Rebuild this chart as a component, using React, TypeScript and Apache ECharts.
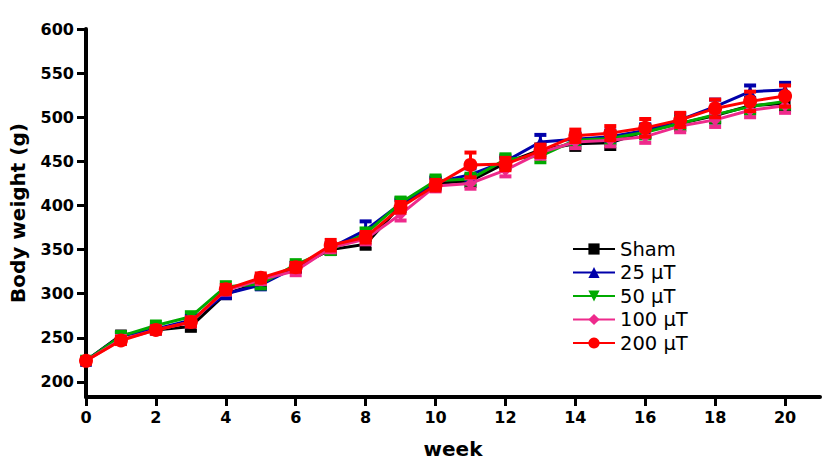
import React, { useEffect, useRef } from "react";
import * as echarts from "echarts";

const weeks = [0, 1, 2, 3, 4, 5, 6, 7, 8, 9, 10, 11, 12, 13, 14, 15, 16, 17, 18, 19, 20];
const xTicks = [0, 2, 4, 6, 8, 10, 12, 14, 16, 18, 20];
const yTicks = [200, 250, 300, 350, 400, 450, 500, 550, 600];

const seriesNames = ["Sham", "25 μT", "50 μT", "100 μT", "200 μT"];
const seriesColors = ["#000000", "#0000aa", "#00aa00", "#ee2a8c", "#ff0000"];
const seriesSymbols = ["rect", "triangle", "triangle", "diamond", "circle"];
const seriesRotate = [0, 0, 180, 0, 0];
const seriesSymbolSize = [11, 12, 12, 12, 14];

const shamValues = [224, 253, 259, 263, 300, 312, 330, 350, 356, 400, 425, 428, 448, 463, 470, 471, 484, 493, 502, 513, 516];
const t25Values = [224, 252, 260, 270, 300, 310, 330, 352, 372, 402, 426, 435, 450, 472, 475, 478, 485, 497, 512, 529, 531];
const t50Values = [224, 252, 264, 274, 308, 311, 333, 350, 368, 403, 428, 430, 452, 456, 474, 476, 483, 493, 503, 512, 518];
const t100Values = [224, 248, 259, 268, 304, 316, 326, 352, 362, 390, 422, 425, 440, 460, 472, 474, 478, 490, 497, 508, 513];
const t200Values = [224, 247, 259, 268, 305, 318, 330, 355, 364, 398, 423, 446, 447, 462, 479, 482, 488, 497, 510, 518, 524];

const shamErr = [3, 4, 4, 5, 5, 5, 5, 5, 5, 6, 6, 6, 6, 6, 7, 7, 7, 7, 8, 8, 8];
const t25Err = [3, 4, 4, 5, 5, 5, 5, 5, 10, 6, 6, 7, 6, 8, 7, 7, 7, 7, 8, 7, 8];
const t50Err = [3, 4, 4, 5, 5, 5, 5, 5, 6, 6, 6, 6, 6, 7, 7, 7, 7, 7, 8, 8, 8];
const t100Err = [3, 4, 4, 5, 5, 5, 5, 5, 6, 7, 6, 6, 7, 7, 7, 7, 7, 7, 8, 8, 8];
const t200Err = [3, 4, 4, 5, 5, 5, 5, 6, 6, 6, 6, 14, 7, 7, 7, 8, 10, 8, 10, 11, 12];

const allValues = [shamValues, t25Values, t50Values, t100Values, t200Values];
const allErrs = [shamErr, t25Err, t50Err, t100Err, t200Err];

const FONT = "'DejaVu Sans', Verdana, sans-serif";

export default function App() {
  const ref = useRef<HTMLDivElement>(null);
  useEffect(() => {
    if (!ref.current) return;
    const chart = echarts.init(ref.current, null, { renderer: "svg" });
    const series: any[] = [];
    allValues.forEach((vals, i) => {
      const errs = allErrs[i];
      const color = seriesColors[i];
      series.push({
        type: "custom",
        name: seriesNames[i] + " err",
        z: 2 + i * 2,
        silent: true,
        data: weeks.map((w, j) => [w, vals[j] - errs[j], vals[j] + errs[j]]),
        encode: { x: 0, y: [1, 2] },
        renderItem: (params: any, api: any) => {
          const x = api.value(0);
          const lo = api.coord([x, api.value(1)]);
          const hi = api.coord([x, api.value(2)]);
          const hw = 6;
          const style = { stroke: color, lineWidth: 3, fill: "none" };
          return {
            type: "group",
            children: [
              { type: "line", shape: { x1: lo[0], y1: lo[1], x2: hi[0], y2: hi[1] }, style },
              { type: "line", shape: { x1: hi[0] - hw, y1: hi[1], x2: hi[0] + hw, y2: hi[1] }, style: { ...style, lineWidth: 4 } },
              { type: "line", shape: { x1: lo[0] - hw, y1: lo[1], x2: lo[0] + hw, y2: lo[1] }, style: { ...style, lineWidth: 4 } },
            ],
          };
        },
      });
      series.push({
        type: "line",
        name: seriesNames[i],
        z: 3 + i * 2,
        data: weeks.map((w, j) => [w, vals[j]]),
        symbol: seriesSymbols[i],
        symbolSize: seriesSymbolSize[i],
        symbolRotate: seriesRotate[i],
        showAllSymbol: true,
        lineStyle: { color, width: 3 },
        itemStyle: { color, borderWidth: 0 },
        emphasis: { disabled: true },
      });
    });

    chart.setOption({
      animation: false,
      backgroundColor: "#ffffff",
      grid: { left: 84, right: 11, top: 29, bottom: 75, containLabel: false },
      legend: {
        data: seriesNames,
        orient: "vertical",
        left: 567,
        top: 234,
        padding: 5,
        itemWidth: 42,
        itemHeight: 14,
        itemGap: 3.5,
        textStyle: { fontFamily: FONT, fontSize: 19.5, color: "#000", lineHeight: 20 },
        selectedMode: false,
      },
      xAxis: {
        type: "value",
        min: 0,
        max: 21,
        name: "week",
        nameLocation: "middle",
        nameGap: 42,
        nameTextStyle: { fontFamily: FONT, fontSize: 20, fontWeight: "bold", color: "#000" },
        axisLine: { show: true, lineStyle: { color: "#000", width: 4 } },
        axisTick: { show: true, length: 9, lineStyle: { color: "#000", width: 3 }, customValues: xTicks },
        axisLabel: { fontFamily: FONT, fontSize: 16, fontWeight: "bold", color: "#000", margin: 12, customValues: xTicks },
        splitLine: { show: false },
      },
      yAxis: {
        type: "value",
        min: 183,
        max: 600,
        name: "Body weight (g)",
        nameLocation: "middle",
        nameGap: 58,
        nameTextStyle: { fontFamily: FONT, fontSize: 20, fontWeight: "bold", color: "#000" },
        axisLine: { show: true, lineStyle: { color: "#000", width: 4 } },
        axisTick: { show: true, length: 9, lineStyle: { color: "#000", width: 3 }, customValues: yTicks },
        axisLabel: { fontFamily: FONT, fontSize: 16, fontWeight: "bold", color: "#000", margin: 12, customValues: yTicks },
        splitLine: { show: false },
      },
      series,
    });
    return () => chart.dispose();
  }, []);
  return (
    <div
      ref={ref}
      style={{ position: "fixed", left: 0, top: 0, width: 831, height: 472, background: "#fff" }}
    />
  );
}
